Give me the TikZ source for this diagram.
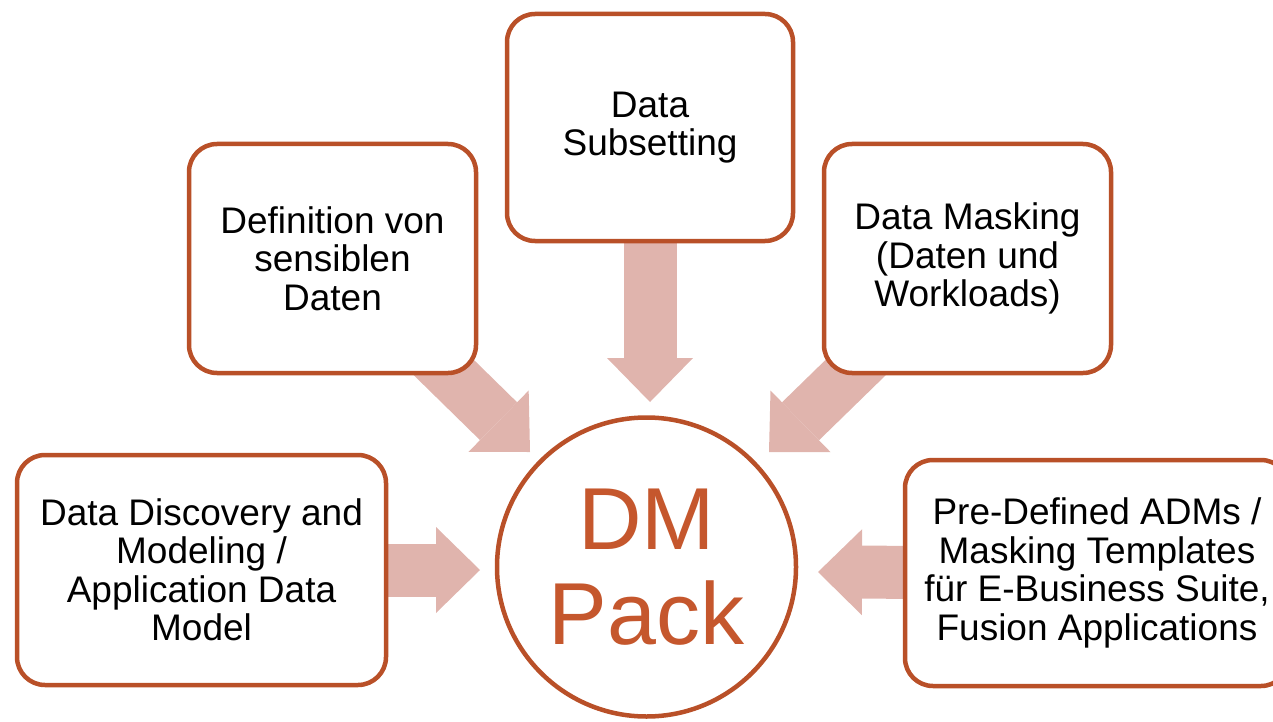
\documentclass[tikz,border=0pt]{standalone}
\usepackage{fontspec}
\setmainfont{Liberation Sans}
\usetikzlibrary{arrows.meta}
\pgfdeclarelayer{bg}
\pgfsetlayers{bg,main}
\definecolor{boxline}{RGB}{185,80,40}
\definecolor{dmtext}{RGB}{197,87,45}
\definecolor{arrowfill}{RGB}{224,180,173}
\begin{document}
\begin{tikzpicture}[x=1pt,y=-1pt,
  card/.style={draw=boxline, line width=4.5pt, fill=white, rounded corners=28pt, align=center, inner sep=0pt, font=\fontsize{37}{38.5}\selectfont, text=black},
  hub/.style={circle, draw=boxline, line width=4.5pt, fill=white, minimum size=299pt, inner sep=0pt, align=center, text=dmtext, font=\fontsize{88}{95}\selectfont},
  blockarrow/.style={draw=arrowfill, line width=53pt, -{Triangle[length=44pt,width=86pt,line width=0pt]}}
]
\useasboundingbox (0,0) rectangle (1273,722);

\node[card, minimum width=287pt, minimum height=229pt] (tl) at (332.5,258.5) {Definition von\\sensiblen\\Daten};
\node[card, minimum width=286pt, minimum height=227pt] (top) at (650,127.5) {Data\\Subsetting};
\node[card, minimum width=287pt, minimum height=229pt] (tr) at (967.5,258.5) {Data Masking\\(Daten und\\Workloads)};
\node[card, minimum width=369pt, minimum height=230pt] (lb) at (201.5,570) {Data Discovery and\\Modeling /\\Application Data\\Model};
\node[card, minimum width=384pt, minimum height=226pt] (rb) at (1097,573) {Pre-Defined ADMs /\\Masking Templates\\für E-Business Suite,\\Fusion Applications};
\node[hub] (dm) at (646.5,567) {DM\\Pack};

\coordinate (tlTip) at (530,452);
\coordinate (topTip) at (650,402);
\coordinate (trTip) at (769,452);
\coordinate (lbTip) at (480,570);
\coordinate (rbTip) at (818,572);

\begin{pgfonlayer}{bg}
\draw[blockarrow] (tl.center) -- (tlTip);
\draw[blockarrow] (top.center) -- (topTip);
\draw[blockarrow] (tr.center) -- (trTip);
\draw[blockarrow] (lb.center) -- (lbTip);
\draw[blockarrow] (rb.center) -- (rbTip);
\end{pgfonlayer}
\end{tikzpicture}
\end{document}
